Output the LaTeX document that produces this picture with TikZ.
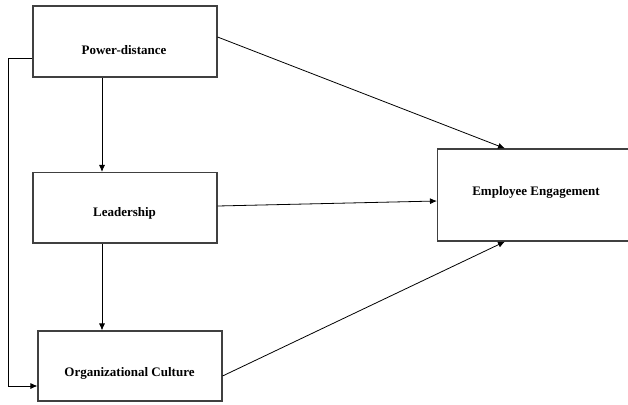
\documentclass[tikz,border=0pt]{standalone}
\usepackage{fontspec}
\setmainfont{Liberation Serif}
\usetikzlibrary{arrows.meta}
\begin{document}
\begin{tikzpicture}[x=1pt,y=-1pt,
  box/.style={draw=black!75,line width=1.1pt,rectangle,inner sep=0pt},
  lbl/.style={inner sep=0pt,font=\bfseries\fontsize{13}{15}\selectfont},
  conn/.style={draw=black,line width=0.8pt,-{Latex[length=7pt,width=6pt]}}]
\useasboundingbox (0,0) rectangle (628,404);
\fill[white] (0,0) rectangle (628,404);
\node[box,minimum width=184pt,minimum height=71pt] (pd) at (125,41.5) {};
\node[box,minimum width=184pt,minimum height=70.5pt] (ld) at (125,207.75) {};
\node[box,minimum width=184pt,minimum height=70pt] (oc) at (130,366) {};
\node[box,minimum width=192.5pt,minimum height=92pt] (ee) at (533.75,195) {};
\node[lbl] (pdt) at (124,50) {Power-distance};
\node[lbl] (ldt) at (124.5,213) {Leadership};
\node[lbl] (oct) at (129.5,373) {Organizational Culture};
\node[lbl] (eet) at (536,192) {Employee Engagement};
\coordinate (c1) at (8,58);
\coordinate (c2) at (8,386);
\draw[conn] ([xshift=-23pt]pd.south) -- ([xshift=-23pt]ld.north);
\draw[conn] ([xshift=-23pt]ld.south) -- ([xshift=-28pt]oc.north);
\draw[conn] (pd.west |- c1) -- (c1) -- (c2) -- (oc.west |- c2);
\draw[conn] ([yshift=4.5pt]pd.east) -- ([xshift=-28.75pt]ee.north);
\draw[conn] ([yshift=1.75pt]ld.east) -- ([yshift=-6pt]ee.west);
\draw[conn] ([yshift=-10pt]oc.east) -- ([xshift=-28.75pt]ee.south);
\end{tikzpicture}
\end{document}
